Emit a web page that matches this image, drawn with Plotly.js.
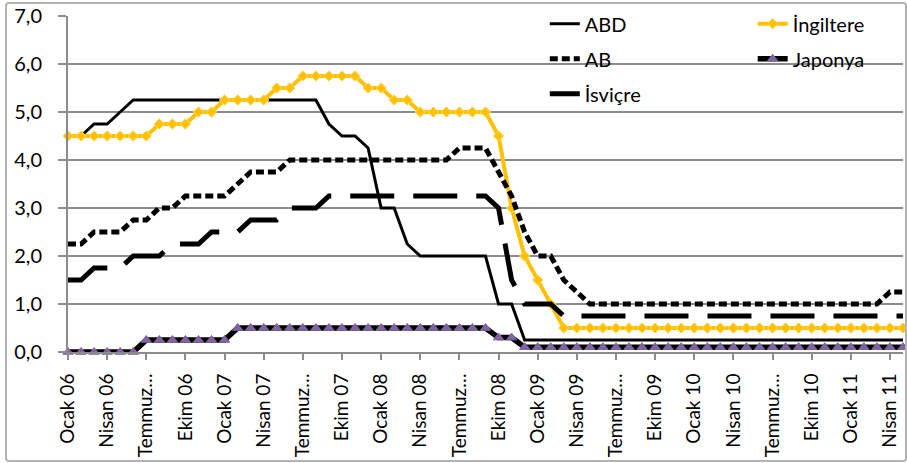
<!DOCTYPE html>
<html>
<head>
<meta charset="utf-8">
<script src="https://cdn.plot.ly/plotly-3.0.1.min.js"></script>
<style>
  html, body { margin: 0; padding: 0; background: #fff; }
  #wrap { position: relative; width: 907px; height: 463px; }
  #chart { width: 907px; height: 463px; }
  #frame { position: absolute; left: 5px; top: 2px; width: 898px; height: 456px;
           border: 2px solid #b3b3b3; border-radius: 4px; pointer-events: none; }
</style>
</head>
<body>
<div id="wrap"><div id="chart"></div><div id="frame"></div></div>
<script>
// Categories: months Jan 2006 - May 2011
const months = [
  "Ocak 06","Şubat 06","Mart 06","Nisan 06","Mayıs 06","Haziran 06","Temmuz 06","Ağustos 06","Eylül 06","Ekim 06","Kasım 06","Aralık 06",
  "Ocak 07","Şubat 07","Mart 07","Nisan 07","Mayıs 07","Haziran 07","Temmuz 07","Ağustos 07","Eylül 07","Ekim 07","Kasım 07","Aralık 07",
  "Ocak 08","Şubat 08","Mart 08","Nisan 08","Mayıs 08","Haziran 08","Temmuz 08","Ağustos 08","Eylül 08","Ekim 08","Kasım 08","Aralık 08",
  "Ocak 09","Şubat 09","Mart 09","Nisan 09","Mayıs 09","Haziran 09","Temmuz 09","Ağustos 09","Eylül 09","Ekim 09","Kasım 09","Aralık 09",
  "Ocak 10","Şubat 10","Mart 10","Nisan 10","Mayıs 10","Haziran 10","Temmuz 10","Ağustos 10","Eylül 10","Ekim 10","Kasım 10","Aralık 10",
  "Ocak 11","Şubat 11","Mart 11","Nisan 11","Mayıs 11"
];

// Tick positions (categories) and the labels shown on the axis
const tickCats = ["Ocak 06","Nisan 06","Temmuz 06","Ekim 06","Ocak 07","Nisan 07","Temmuz 07","Ekim 07",
  "Ocak 08","Nisan 08","Temmuz 08","Ekim 08","Ocak 09","Nisan 09","Temmuz 09","Ekim 09",
  "Ocak 10","Nisan 10","Temmuz 10","Ekim 10","Ocak 11","Nisan 11"];
const tickLabels = ["Ocak 06","Nisan 06","Temmuz…","Ekim 06","Ocak 07","Nisan 07","Temmuz…","Ekim 07",
  "Ocak 08","Nisan 08","Temmuz…","Ekim 08","Ocak 09","Nisan 09","Temmuz…","Ekim 09",
  "Ocak 10","Nisan 10","Temmuz…","Ekim 10","Ocak 11","Nisan 11"];

const abd = [
  4.5,4.5,4.75,4.75,5.0,5.25,5.25,5.25,5.25,5.25,5.25,5.25,
  5.25,5.25,5.25,5.25,5.25,5.25,5.25,5.25,4.75,4.5,4.5,4.25,
  3.0,3.0,2.25,2.0,2.0,2.0,2.0,2.0,2.0,1.0,1.0,0.25,
  0.25,0.25,0.25,0.25,0.25,0.25,0.25,0.25,0.25,0.25,0.25,0.25,
  0.25,0.25,0.25,0.25,0.25,0.25,0.25,0.25,0.25,0.25,0.25,0.25,
  0.25,0.25,0.25,0.25,0.25
];
const ingiltere = [
  4.5,4.5,4.5,4.5,4.5,4.5,4.5,4.75,4.75,4.75,5.0,5.0,
  5.25,5.25,5.25,5.25,5.5,5.5,5.75,5.75,5.75,5.75,5.75,5.5,
  5.5,5.25,5.25,5.0,5.0,5.0,5.0,5.0,5.0,4.5,3.0,2.0,
  1.5,1.0,0.5,0.5,0.5,0.5,0.5,0.5,0.5,0.5,0.5,0.5,
  0.5,0.5,0.5,0.5,0.5,0.5,0.5,0.5,0.5,0.5,0.5,0.5,
  0.5,0.5,0.5,0.5,0.5
];
const ab = [
  2.25,2.25,2.5,2.5,2.5,2.75,2.75,3.0,3.0,3.25,3.25,3.25,
  3.25,3.5,3.75,3.75,3.75,4.0,4.0,4.0,4.0,4.0,4.0,4.0,
  4.0,4.0,4.0,4.0,4.0,4.0,4.25,4.25,4.25,3.75,3.25,2.5,
  2.0,2.0,1.5,1.25,1.0,1.0,1.0,1.0,1.0,1.0,1.0,1.0,
  1.0,1.0,1.0,1.0,1.0,1.0,1.0,1.0,1.0,1.0,1.0,1.0,
  1.0,1.0,1.0,1.25,1.25
];
const japonya = [
  0,0,0,0,0,0,0.25,0.25,0.25,0.25,0.25,0.25,
  0.25,0.5,0.5,0.5,0.5,0.5,0.5,0.5,0.5,0.5,0.5,0.5,
  0.5,0.5,0.5,0.5,0.5,0.5,0.5,0.5,0.5,0.3,0.3,0.1,
  0.1,0.1,0.1,0.1,0.1,0.1,0.1,0.1,0.1,0.1,0.1,0.1,
  0.1,0.1,0.1,0.1,0.1,0.1,0.1,0.1,0.1,0.1,0.1,0.1,
  0.1,0.1,0.1,0.1,0.1
];
const isvicre = [
  1.5,1.5,1.75,1.75,1.75,2.0,2.0,2.0,2.25,2.25,2.25,2.5,
  2.5,2.5,2.75,2.75,2.75,3.0,3.0,3.0,3.25,3.25,3.25,3.25,
  3.25,3.25,3.25,3.25,3.25,3.25,3.25,3.25,3.25,3.0,1.5,1.0,
  1.0,1.0,0.75,0.75,0.75,0.75,0.75,0.75,0.75,0.75,0.75,0.75,
  0.75,0.75,0.75,0.75,0.75,0.75,0.75,0.75,0.75,0.75,0.75,0.75,
  0.75,0.75,0.75,0.75,0.75
];

const FONT = "Lato, Open Sans, sans-serif";

const traces = [
  { name: "ABD", x: months, y: abd, type: "scatter", mode: "lines",
    line: { color: "#000000", width: 3 }, legend: "legend", legendgroup: "g1", cliponaxis: false },
  { name: "İngiltere", x: months, y: ingiltere, type: "scatter", mode: "lines+markers",
    line: { color: "#FFC000", width: 4 },
    marker: { symbol: "diamond", size: 8, color: "#FFC000", line: { color: "#FFD966", width: 1 } },
    legend: "legend2", legendgroup: "g2", cliponaxis: false },
  { name: "AB", x: months, y: ab, type: "scatter", mode: "lines",
    line: { color: "#000000", width: 5, dash: "8px,4px" }, legend: "legend", legendgroup: "g3", cliponaxis: false },
  { name: "Japonya", x: months, y: japonya, type: "scatter", mode: "lines+markers",
    line: { color: "#000000", width: 5.5 },
    marker: { symbol: "triangle-up", size: 9, color: "#8064A2", line: { color: "#8064A2", width: 1 } },
    legend: "legend2", legendgroup: "g4", cliponaxis: false },
  { name: "İsviçre", x: months, y: isvicre, type: "scatter", mode: "lines",
    line: { color: "#000000", width: 5, dash: "44px,19px" }, legend: "legend", legendgroup: "g5", cliponaxis: false }
];

const layout = {
  width: 907, height: 463,
  margin: { l: 68, r: 4, t: 16, b: 111, pad: 0 },
  paper_bgcolor: "#ffffff", plot_bgcolor: "#ffffff",
  separators: ", ",
  font: { family: FONT, color: "#000000" },
  showlegend: true,
  xaxis: {
    type: "category", categoryorder: "array", categoryarray: months,
    range: [0, 64],
    tickmode: "array", tickvals: tickCats, ticktext: tickLabels,
    tickangle: -90, tickfont: { size: 19, family: FONT, color: "#000" },
    ticks: "outside", ticklen: 6, tickwidth: 2, tickcolor: "#8c8c8c",
    ticklabelstandoff: 6,
    showgrid: false, zeroline: false,
    showline: true, linecolor: "#8c8c8c", linewidth: 2
  },
  yaxis: {
    range: [0, 7], dtick: 1, tick0: 0, tickformat: ".1f",
    tickfont: { size: 20, family: FONT, color: "#000" },
    ticks: "outside", ticklen: 8, tickwidth: 2, tickcolor: "#8c8c8c",
    ticklabelstandoff: 12,
    showgrid: true, gridcolor: "#8c8c8c", gridwidth: 2,
    zeroline: false,
    showline: true, linecolor: "#8c8c8c", linewidth: 2
  },
  legend: {
    x: 0.571, xanchor: "left", y: 1.035, yanchor: "top",
    bgcolor: "rgba(0,0,0,0)", font: { size: 20, family: FONT, color: "#000" },
    traceorder: "grouped", tracegroupgap: 6, itemwidth: 30
  },
  legend2: {
    x: 0.82, xanchor: "left", y: 1.035, yanchor: "top",
    bgcolor: "rgba(0,0,0,0)", font: { size: 20, family: FONT, color: "#000" },
    traceorder: "grouped", tracegroupgap: 6, itemwidth: 30
  }
};

Plotly.newPlot("chart", traces, layout, { displayModeBar: false, staticPlot: true });
</script>
</body>
</html>
